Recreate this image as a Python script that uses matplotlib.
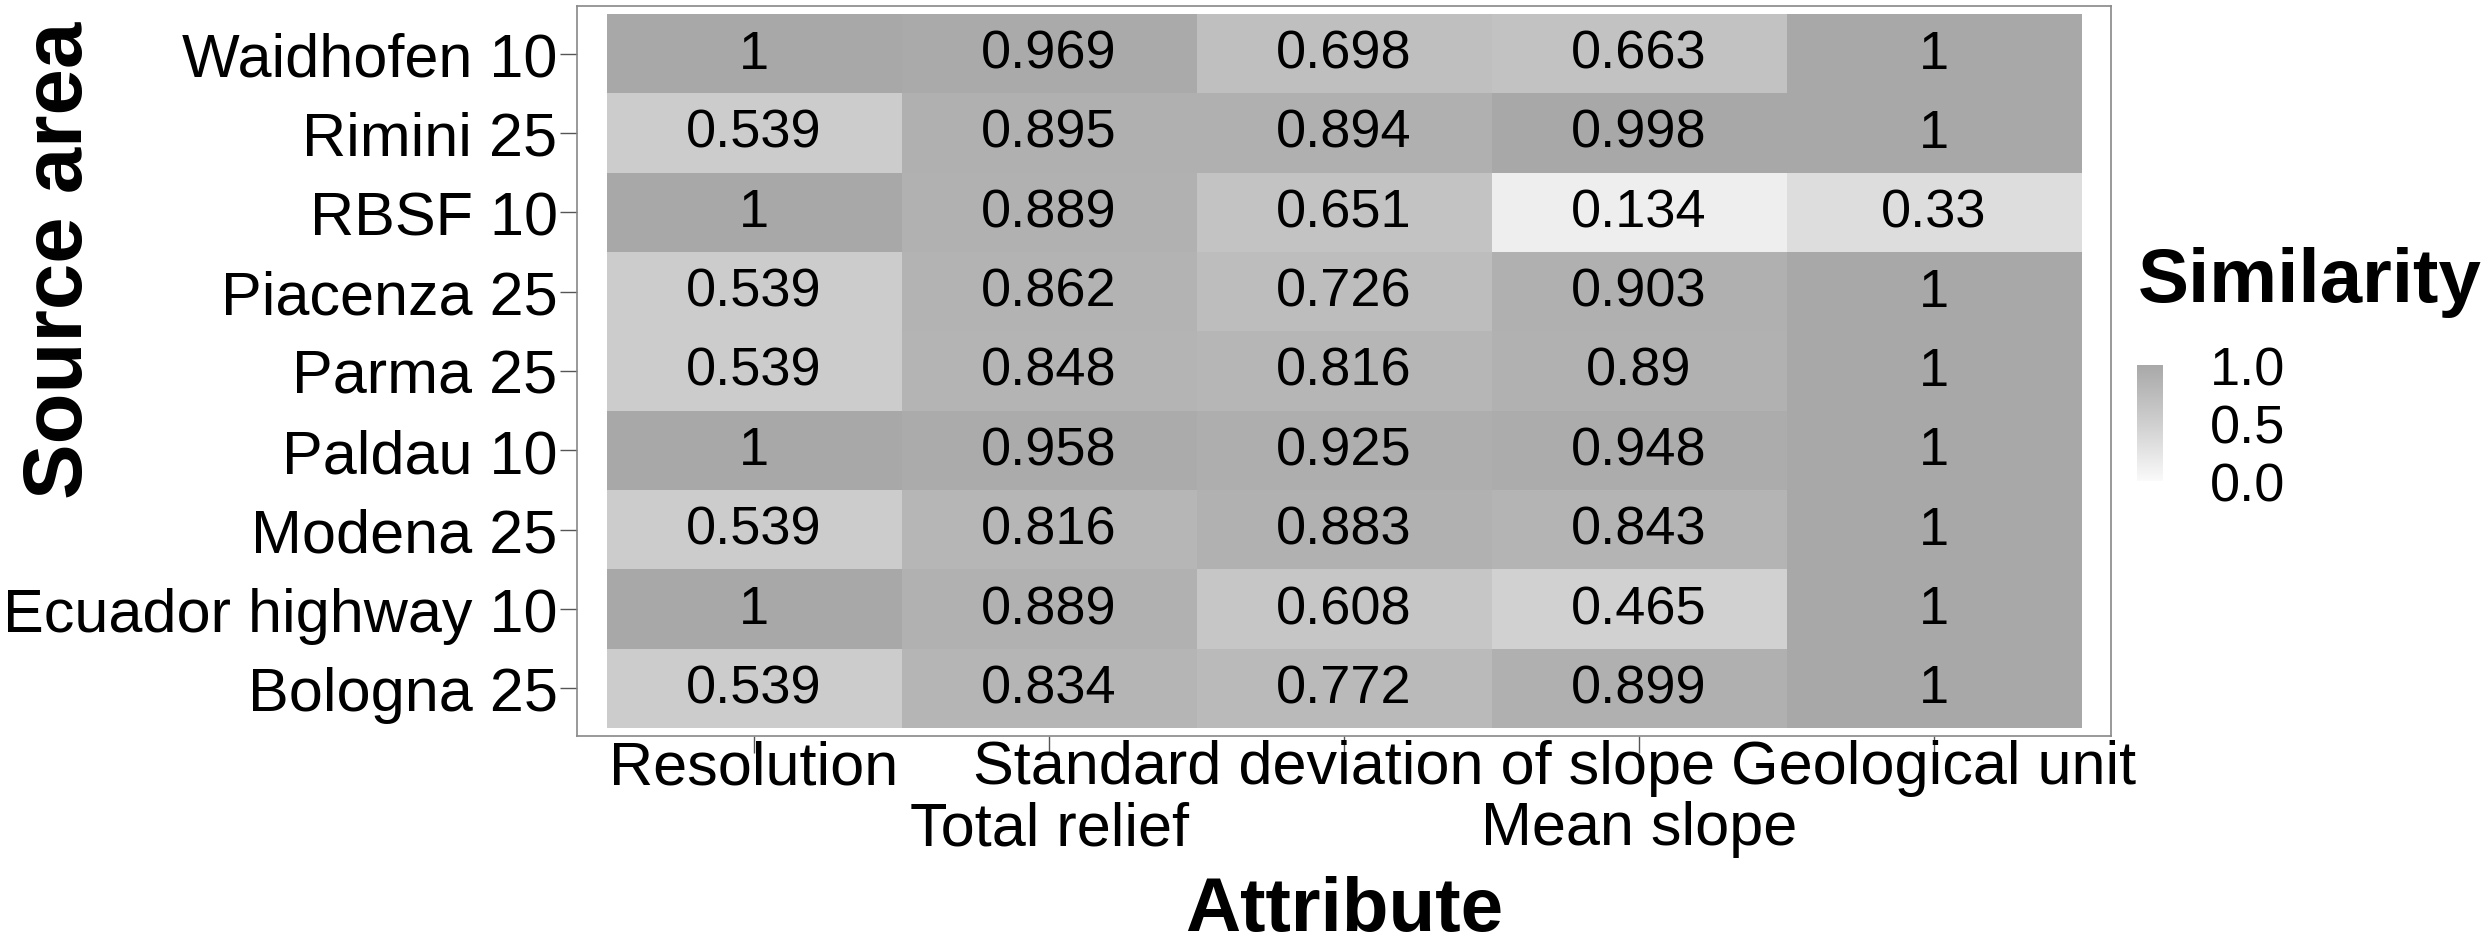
import numpy as np
import matplotlib
matplotlib.use("Agg")
import matplotlib.pyplot as plt
from matplotlib.colors import LinearSegmentedColormap

plt.rcParams['font.family'] = ['Liberation Sans', 'DejaVu Sans']

areas = ["Bologna 25", "Ecuador highway 10", "Modena 25", "Paldau 10", "Parma 25",
         "Piacenza 25", "RBSF 10", "Rimini 25", "Waidhofen 10"]
attributes = ["Resolution", "Total relief", "Standard deviation of slope",
              "Mean slope", "Geological unit"]

# rows follow `areas` (bottom to top)
resolution = [0.539, 1, 0.539, 1, 0.539, 0.539, 1, 0.539, 1]
total_relief = [0.834, 0.889, 0.816, 0.958, 0.848, 0.862, 0.889, 0.895, 0.969]
sd_slope = [0.772, 0.608, 0.883, 0.925, 0.816, 0.726, 0.651, 0.894, 0.698]
mean_slope = [0.899, 0.465, 0.843, 0.948, 0.89, 0.903, 0.134, 0.998, 0.663]
geo_unit = [1, 1, 1, 1, 1, 1, 0.33, 1, 1]

values = np.array([resolution, total_relief, sd_slope, mean_slope, geo_unit]).T

cmap = LinearSegmentedColormap.from_list(
    "sim", [(0, (0.98,) * 3), (0.5, (0.81,) * 3), (1, (0.66,) * 3)])

W, H = 2488, 945
fig = plt.figure(figsize=(W / 100, H / 100), dpi=100)
ax = fig.add_axes([577 / W, 1 - 737 / H, (2111 - 577) / W, (737 - 7) / H])

mesh = ax.pcolormesh(np.arange(len(attributes) + 1) - 0.5,
                     np.arange(len(areas) + 1) - 0.5,
                     values, cmap=cmap, vmin=0, vmax=1)

for i in range(len(areas)):
    for j in range(len(attributes)):
        v = values[i, j]
        ax.text(j, i, f"{v:g}", ha="center", va="center", fontsize=39, color="black")

ax.set_xlim(-0.6, len(attributes) - 0.4)
ax.set_ylim(-0.6, len(areas) - 0.4)

ax.set_yticks(range(len(areas)))
ax.set_yticklabels(areas, fontsize=44)
ax.set_xticks(range(len(attributes)))
ax.set_xticklabels([])
ax.tick_params(length=12, width=1, color="#555555", pad=2)

# dodged x labels in two rows
for j, lab in enumerate(attributes):
    y = -32 / 730 if j % 2 == 0 else -93 / 730
    ax.text(j, y, lab, transform=ax.get_xaxis_transform(), ha="center",
            va="center", fontsize=44)

for s in ax.spines.values():
    s.set_color("#888888")
    s.set_linewidth(1.2)

fig.text(1344 / W, 1 - 912 / H, "Attribute", ha="center", va="center",
         fontsize=55, fontweight="bold")
fig.text(60 / W, 1 - 260 / H, "Source area", ha="center", va="center",
         rotation=90, fontsize=60, fontweight="bold")

# legend
fig.text(2138 / W, 1 - 283 / H, "Similarity", ha="left", va="center",
         fontsize=55, fontweight="bold")
cax = fig.add_axes([2137 / W, 1 - 488 / H, 26 / W, 128 / H])
cb = fig.colorbar(mesh, cax=cax, ticks=[0, 0.5, 1])
cb.outline.set_visible(False)
cb.ax.set_yticklabels(["0.0", "0.5", "1.0"], fontsize=39)
cb.ax.tick_params(length=0, pad=34)
cax.set_ylim(-0.05, 1.05)

fig.savefig("out.png", dpi=100)
